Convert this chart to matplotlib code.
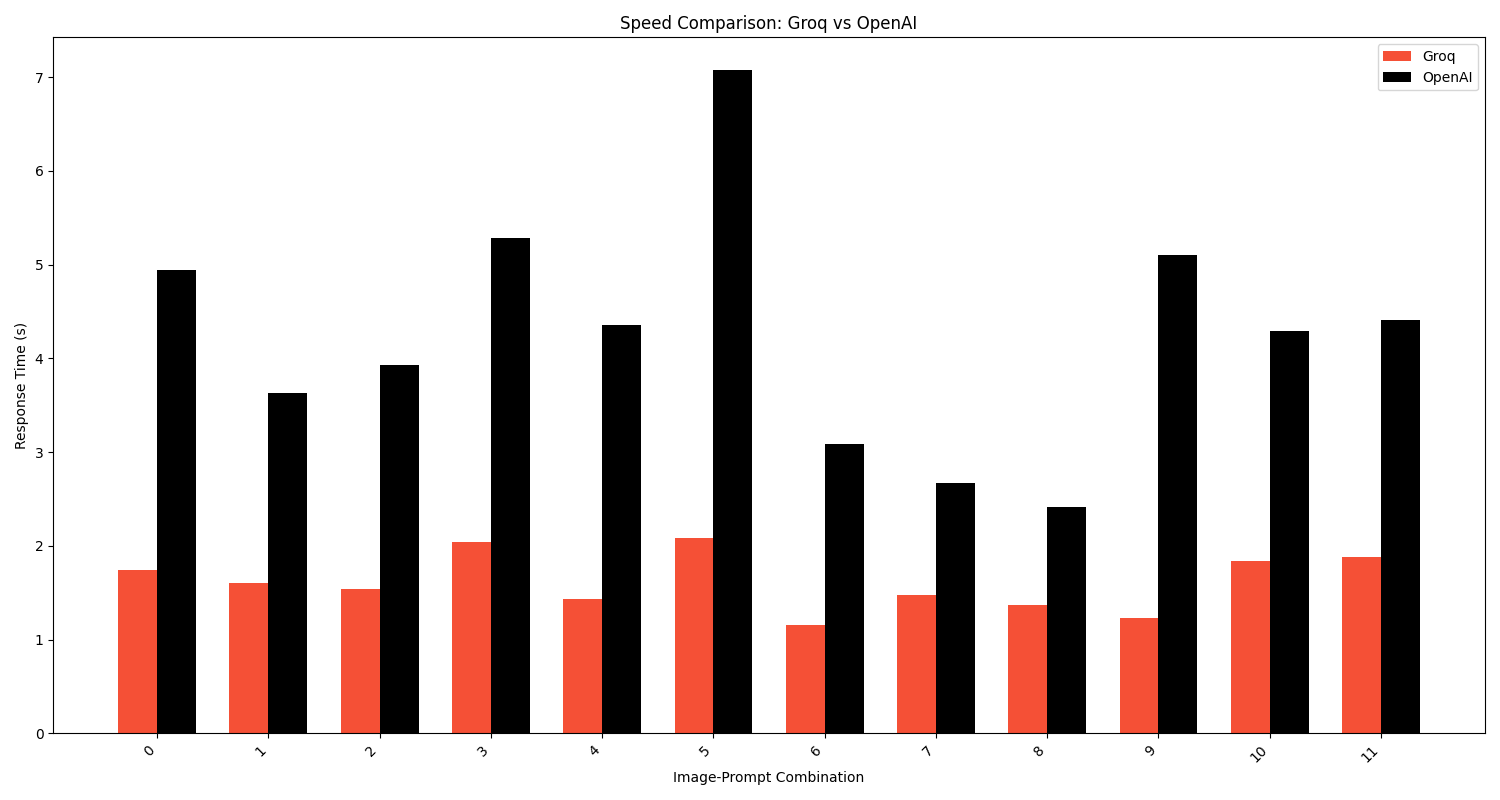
import numpy as np
import matplotlib
matplotlib.use("Agg")
import matplotlib.pyplot as plt

categories = [str(i) for i in range(12)]
groq_times = [1.74, 1.60, 1.54, 2.04, 1.43, 2.08, 1.15, 1.47, 1.37, 1.23, 1.84, 1.88]
openai_times = [4.94, 3.63, 3.93, 5.28, 4.36, 7.07, 3.09, 2.67, 2.41, 5.10, 4.29, 4.41]

x = np.arange(len(categories))
width = 0.35

fig, ax = plt.subplots(figsize=(15, 8), dpi=100)
ax.bar(x - width / 2, groq_times, width, label="Groq", color="#F55036")
ax.bar(x + width / 2, openai_times, width, label="OpenAI", color="black")

ax.set_xlabel("Image-Prompt Combination")
ax.set_ylabel("Response Time (s)")
ax.set_title("Speed Comparison: Groq vs OpenAI")
ax.set_xticks(x)
ax.set_xticklabels(categories, rotation=45, ha="right")
ax.legend(loc="upper right")

fig.tight_layout()
fig.savefig("out.png", dpi=100)
